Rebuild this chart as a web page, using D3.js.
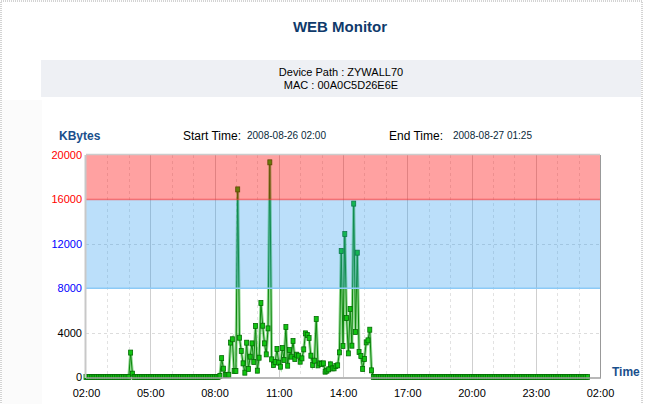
<!DOCTYPE html>
<html><head><meta charset="utf-8">
<script src="https://cdn.jsdelivr.net/npm/d3@7/dist/d3.min.js"></script>
<style>body{margin:0;background:#fff}svg{display:block}</style>
</head><body>
<svg id="c" width="651" height="404"></svg>
<script>
const title = "WEB Monitor";
const devicePath = "Device Path : ZYWALL70";
const mac = "MAC : 00A0C5D26E6E";
const startTime = "2008-08-26 02:00";
const endTime = "2008-08-27 01:25";
const xTickLabels = ["02:00", "05:00", "08:00", "11:00", "14:00", "17:00", "20:00", "23:00", "02:00"];
const yTicks = [0, 4000, 8000, 12000, 16000, 20000];
const yTickColors = ["#000", "#000", "#0000ff", "#0000ff", "#ff0000", "#ff0000"];
const bands = [{from: 8000, to: 16000, kind: "blue"}, {from: 16000, to: 20000, kind: "red"}];
// KBytes, one sample every 5 minutes starting 2008-08-26 02:00
const values = [
0,0,0,0,0,0,0,0,0,0,0,0,0,0,0,0,0,0,0,0,0,0,0,0,0,
2200,300,
0,0,0,0,0,0,0,0,0,0,0,0,0,0,0,0,0,0,0,0,0,0,0,0,0,0,0,0,0,0,0,0,0,0,0,0,0,0,0,0,0,0,0,0,0,0,0,0,
100,1700,750,180,180,200,3100,3400,540,540,
16900,3540,2340,1230,390,3090,720,1830,3030,1350,
4600,570,1740,6670,4620,3030,2040,4380,19340,1590,
1080,1350,2520,1290,930,2610,1530,4500,1020,2430,
1830,3240,1620,2010,1920,1380,1680,2490,3930,3780,
3510,1920,1080,1470,5220,1050,1230,1170,1230,480,
570,690,1140,780,780,990,1050,2220,11350,2790,
12880,5310,2130,6130,2820,15620,4050,11200,2250,1890,
720,1620,3120,3300,4260,600,
0,0,0,0,0,0,0,0,0,0,0,0,0,0,0,0,0,0,0,0,0,0,0,0,0,0,0,0,0,0,
0,0,0,0,0,0,0,0,0,0,0,0,0,0,0,0,0,0,0,0,0,0,0,0,0,0,0,0,0,0,
0,0,0,0,0,0,0,0,0,0,0,0,0,0,0,0,0,0,0,0,0,0,0,0,0,0,0,0,0,0,
0,0,0,0,0,0,0,0,0,0,0,0,0,0,0,0,0,0,0,0,0,0,0,0,0,0,0,0,0,0,
0
];
const t0 = new Date(2008, 7, 26, 2, 0);
const t1 = new Date(2008, 7, 27, 2, 0);
const data = values.map((v, i) => ({t: new Date(t0.getTime() + i * 5 * 60000), v}));
const xTickDates = xTickLabels.map((s, i) => new Date(t0.getTime() + i * 3 * 3600000));
const hourDates = d3.range(25).map(h => new Date(t0.getTime() + h * 3600000));

const svg = d3.select("#c");
const L = 86, R = 600, T = 155, B = 377;
const x = d3.scaleTime().domain([t0, t1]).range([L, R]);
const y = d3.scaleLinear().domain([0, 20000]).range([B, T]);
const F = "Liberation Sans, Arial, sans-serif";

// page frame
svg.append("rect").attr("x", 1).attr("y", 1).attr("width", 641).attr("height", 410)
  .attr("fill", "none").attr("stroke", "#a8a8a8").attr("stroke-dasharray", "1,1");
svg.append("rect").attr("x", 2).attr("y", 100).attr("width", 40).attr("height", 310).attr("fill", "#fbfbfb");

// title + header box
svg.append("text").attr("x", 340).attr("y", 32).attr("text-anchor", "middle")
  .attr("font-family", F).attr("font-weight", "bold")
  .attr("font-size", 15).attr("fill", "#0f3a6b").text(title);
svg.append("rect").attr("x", 41).attr("y", 60).attr("width", 600).attr("height", 37).attr("fill", "#eef0f4");
svg.append("text").attr("x", 341).attr("y", 76).attr("text-anchor", "middle")
  .attr("font-family", F).attr("font-size", 11).attr("fill", "#000").text(devicePath);
svg.append("text").attr("x", 341).attr("y", 89).attr("text-anchor", "middle")
  .attr("font-family", F).attr("font-size", 11).attr("fill", "#000").text(mac);

// labels above plot
svg.append("text").attr("x", 59).attr("y", 140).attr("font-family", F).attr("font-weight", "bold")
  .attr("font-size", 12).attr("fill", "#1a4f8c").text("KBytes");
svg.append("text").attr("x", 183).attr("y", 140).attr("font-family", F).attr("font-size", 12).attr("fill", "#000").text("Start Time:");
svg.append("text").attr("x", 247).attr("y", 139).attr("font-family", F).attr("font-size", 10).attr("fill", "#0a2a3a").text(startTime);
svg.append("text").attr("x", 389).attr("y", 140).attr("font-family", F).attr("font-size", 12).attr("fill", "#000").text("End Time:");
svg.append("text").attr("x", 453).attr("y", 139).attr("font-family", F).attr("font-size", 10).attr("fill", "#0a2a3a").text(endTime);
svg.append("text").attr("x", 612).attr("y", 376).attr("font-family", F).attr("font-weight", "bold")
  .attr("font-size", 12).attr("fill", "#1a4f8c").text("Time");

// grid
const g = svg.append("g");
g.selectAll("line.vh").data(hourDates.slice(1, -1)).join("line")
  .attr("x1", d => Math.round(x(d)) + 0.5).attr("x2", d => Math.round(x(d)) + 0.5)
  .attr("y1", T).attr("y2", B)
  .attr("stroke", (d, i) => (i + 1) % 3 === 0 ? "#cfcfcf" : "#e2e2e2")
  .attr("stroke-dasharray", (d, i) => (i + 1) % 3 === 0 ? null : "3,3");
g.selectAll("line.hg").data([4000, 12000]).join("line")
  .attr("x1", L).attr("x2", R).attr("y1", d => Math.round(y(d)) + 0.5).attr("y2", d => Math.round(y(d)) + 0.5)
  .attr("stroke", "#dcdcdc").attr("stroke-dasharray", "3,3");

// series
const line = d3.line().x(d => x(d.t)).y(d => y(d.v));
svg.append("path").datum(data).attr("d", line).attr("fill", "none")
  .attr("stroke", "rgba(20,170,20,0.45)").attr("stroke-width", 3);
svg.append("path").datum(data).attr("d", line).attr("fill", "none")
  .attr("stroke", "#0b870b").attr("stroke-width", 1);
svg.selectAll("rect.m").data(data).join("rect")
  .attr("x", d => x(d.t) - 2).attr("y", d => y(d.v) - 2.5).attr("width", 4).attr("height", 5)
  .attr("fill", "#11c411").attr("stroke", "#056b05").attr("stroke-width", 0.8);

// threshold bands drawn over everything, translucent
svg.selectAll("rect.band").data(bands).join("rect")
  .attr("x", L).attr("width", R - L)
  .attr("y", d => y(d.to)).attr("height", d => y(d.from) - y(d.to))
  .attr("fill", d => d.kind === "red" ? "rgba(255,0,0,0.37)" : "rgba(30,150,240,0.3)");
svg.append("line").attr("x1", L).attr("x2", R).attr("y1", y(16000)).attr("y2", y(16000))
  .attr("stroke", "rgba(255,40,40,0.55)").attr("stroke-width", 1.5);
svg.append("line").attr("x1", L).attr("x2", R).attr("y1", y(8000)).attr("y2", y(8000))
  .attr("stroke", "#8ccaf6").attr("stroke-width", 1.5);

// frame
svg.append("line").attr("x1", L).attr("x2", R).attr("y1", T - 0.5).attr("y2", T - 0.5).attr("stroke", "#cccccc").attr("stroke-width", 1.5);
svg.append("line").attr("x1", L - 0.5).attr("x2", L - 0.5).attr("y1", T).attr("y2", B + 1).attr("stroke", "#c8c8c8").attr("stroke-width", 2);
svg.append("line").attr("x1", R + 0.5).attr("x2", R + 0.5).attr("y1", T).attr("y2", B + 1).attr("stroke", "#999").attr("stroke-width", 1);
svg.append("line").attr("x1", L).attr("x2", R + 1).attr("y1", B + 1).attr("y2", B + 1).attr("stroke", "#a0a0a0").attr("stroke-width", 1.5);

// axes labels
const ya = svg.append("g").attr("transform", `translate(${L - 4},0)`)
  .call(d3.axisLeft(y).tickValues(yTicks).tickSize(0).tickPadding(0).tickFormat(d3.format("d")));
ya.select(".domain").remove();
ya.selectAll("text").attr("font-family", F).attr("font-size", 11)
  .attr("fill", d => yTickColors[yTicks.indexOf(d)]);
const xa = svg.append("g").attr("transform", `translate(0,${B + 12})`)
  .call(d3.axisBottom(x).tickValues(xTickDates).tickSize(0).tickPadding(0)
    .tickFormat((d, i) => xTickLabels[i]));
xa.select(".domain").remove();
xa.selectAll("text").attr("font-family", F).attr("font-size", 11).attr("fill", "#000");
</script>
</body></html>
